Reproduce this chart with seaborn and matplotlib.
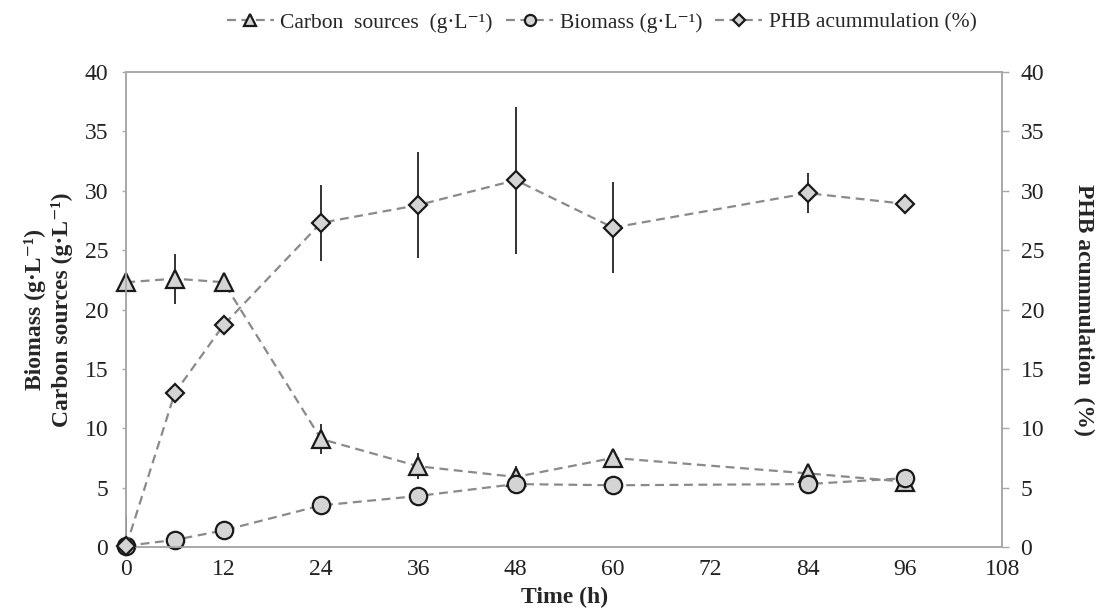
import numpy as np
import matplotlib.pyplot as plt
import seaborn as sns
from matplotlib.lines import Line2D

# values
time_h = [0, 6, 12, 24, 36, 48, 60, 84, 96]
carbon = [22.3, 22.6, 22.3, 9.1, 6.8, 5.9, 7.5, 6.2, 5.5]
carbon_err = [0, 2.1, 0, 1.3, 1.1, 0.9, 0, 0, 0]
biomass = [0.1, 0.6, 1.4, 3.5, 4.3, 5.3, 5.2, 5.3, 5.8]
phb = [0.1, 13.0, 18.7, 27.3, 28.8, 30.9, 26.9, 29.8, 28.9]
phb_err = [2.5, 0, 0, 3.2, 4.5, 6.2, 3.8, 1.7, 0]

x_ticks = list(range(0, 109, 12))
y_ticks = list(range(0, 41, 5))

sns.set_style("white")
plt.rcParams['font.family'] = ['Liberation Serif', 'DejaVu Serif']

line_c = '#8a8a8a'
face_c = '#d4d4d4'
edge_c = '#1a1a1a'
spine_c = '#a8a8a8'

fig = plt.figure(figsize=(10.98, 6.16), dpi=100)
ax = fig.add_axes([0.115, 0.112, 0.798, 0.771])
ax2 = ax.twinx()

style = dict(color=line_c, linestyle=(0, (4, 2.5)), linewidth=1.6,
             markerfacecolor=face_c, markeredgecolor=edge_c,
             markeredgewidth=1.6)

ax.errorbar(time_h, carbon, yerr=carbon_err, fmt='none', ecolor='#111111', elinewidth=1.2, zorder=2)
sns.lineplot(x=time_h, y=carbon, ax=ax, marker='^', markersize=13, zorder=3, clip_on=False, **style)
sns.lineplot(x=time_h, y=biomass, ax=ax, marker='o', markersize=12.5, zorder=3, clip_on=False, **style)

ax2.errorbar(time_h, phb, yerr=phb_err, fmt='none', ecolor='#111111', elinewidth=1.2, zorder=2)
sns.lineplot(x=time_h, y=phb, ax=ax2, marker='D', markersize=9.5, zorder=3, clip_on=False, **style)

for a in (ax, ax2):
    a.set_xlim(0, 108)
    a.set_ylim(0, 40)
    a.set_yticks(y_ticks)
    for s in a.spines.values():
        s.set_color(spine_c)
        s.set_linewidth(1.2)
    a.tick_params(axis='both', labelsize=17, color=spine_c, length=5, width=1,
                  direction='out', labelcolor='#222222')

ax.set_xticks(x_ticks)
ax.tick_params(axis='y', length=3, pad=10)
ax2.tick_params(axis='y', length=5, pad=8)

ax.set_xlabel('Time (h)', fontsize=17, fontweight='bold', labelpad=5)
ax.set_ylabel('Biomass (g·L⁻¹)\nCarbon sources (g·L⁻¹)', fontsize=17,
              fontweight='bold', labelpad=8, linespacing=1.3)
ax2.set_ylabel('PHB acummulation  (%)', fontsize=17, fontweight='bold',
               rotation=270, labelpad=36)

handles = [
    Line2D([], [], marker='^', markersize=8, **style),
    Line2D([], [], marker='o', markersize=8, **style),
    Line2D([], [], marker='D', markersize=6, **style),
]
labels = ['Carbon  sources  (g·L⁻¹)', 'Biomass (g·L⁻¹)', 'PHB acummulation (%)']
fig.legend(handles, labels, loc='center', bbox_to_anchor=(0.548, 0.963), ncol=3,
           frameon=False, fontsize=15.5, handlelength=2.2, handletextpad=0.3,
           columnspacing=0.6)

fig.savefig('out.png', dpi=100)
